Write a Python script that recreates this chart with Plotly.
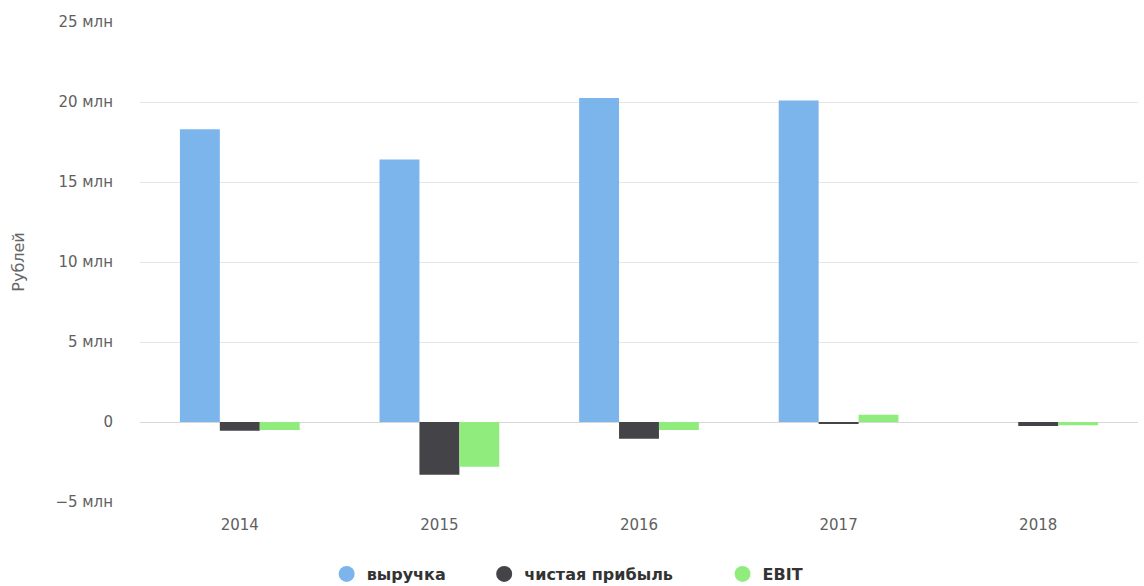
import plotly.graph_objects as go

years = ["2014", "2015", "2016", "2017", "2018"]
revenue = [18.3e6, 16.4e6, 20.25e6, 20.1e6, None]
net_profit = [-0.55e6, -3.3e6, -1.05e6, -0.1e6, -0.25e6]
ebit = [-0.5e6, -2.8e6, -0.5e6, 0.45e6, -0.2e6]

series_names = ["выручка", "чистая прибыль", "EBIT"]
colors = ["#7cb5ec", "#434348", "#90ed7d"]

tick_vals = [-5e6, 0, 5e6, 10e6, 15e6, 20e6, 25e6]
tick_text = ["−5 млн", "0", "5 млн", "10 млн", "15 млн", "20 млн", "25 млн"]

fig = go.Figure()
for name, vals, col in zip(series_names, [revenue, net_profit, ebit], colors):
    fig.add_trace(go.Bar(x=years, y=vals, name=name, marker=dict(color=col, line=dict(width=0)),
                         showlegend=False))
pads = ["\u00a0" * 6, "\u00a0" * 8, ""]
for name, col, p in zip(series_names, colors, pads):
    fig.add_trace(go.Scatter(x=[None], y=[None], mode="markers", name=name + p,
                             marker=dict(symbol="circle", size=17, color=col)))

fig.update_layout(
    width=1144, height=586,
    margin=dict(l=140, r=6, t=22, b=84, autoexpand=False),
    paper_bgcolor="white", plot_bgcolor="white",
    barmode="group", bargap=0.4, bargroupgap=0,
    font=dict(family="DejaVu Sans", color="#606060"),
    legend=dict(orientation="h", x=0.428, xanchor="center", y=-0.15, yanchor="middle",
                font=dict(size=16, color="#333333", family="DejaVu Sans", weight="bold"),
                itemwidth=30, tracegroupgap=0),
    xaxis=dict(type="category", showgrid=False, showline=False, ticks="", automargin=False,
               tickfont=dict(size=15, color="#606060"), ticklabelstandoff=12),
    yaxis=dict(range=[-5e6, 25e6], tickvals=tick_vals, ticktext=tick_text, automargin=False,
               showgrid=True, gridcolor="#e6e6e6", gridwidth=1,
               zeroline=True, zerolinecolor="#d8d8d8", zerolinewidth=1,
               tickfont=dict(size=15, color="#606060"), ticklabelstandoff=26,
               title=dict(text="Рублей", font=dict(size=16, color="#666666"), standoff=26)),
)
fig.write_html("out.html", config={"displayModeBar": False},
               post_script="document.body.style.margin='0';")
